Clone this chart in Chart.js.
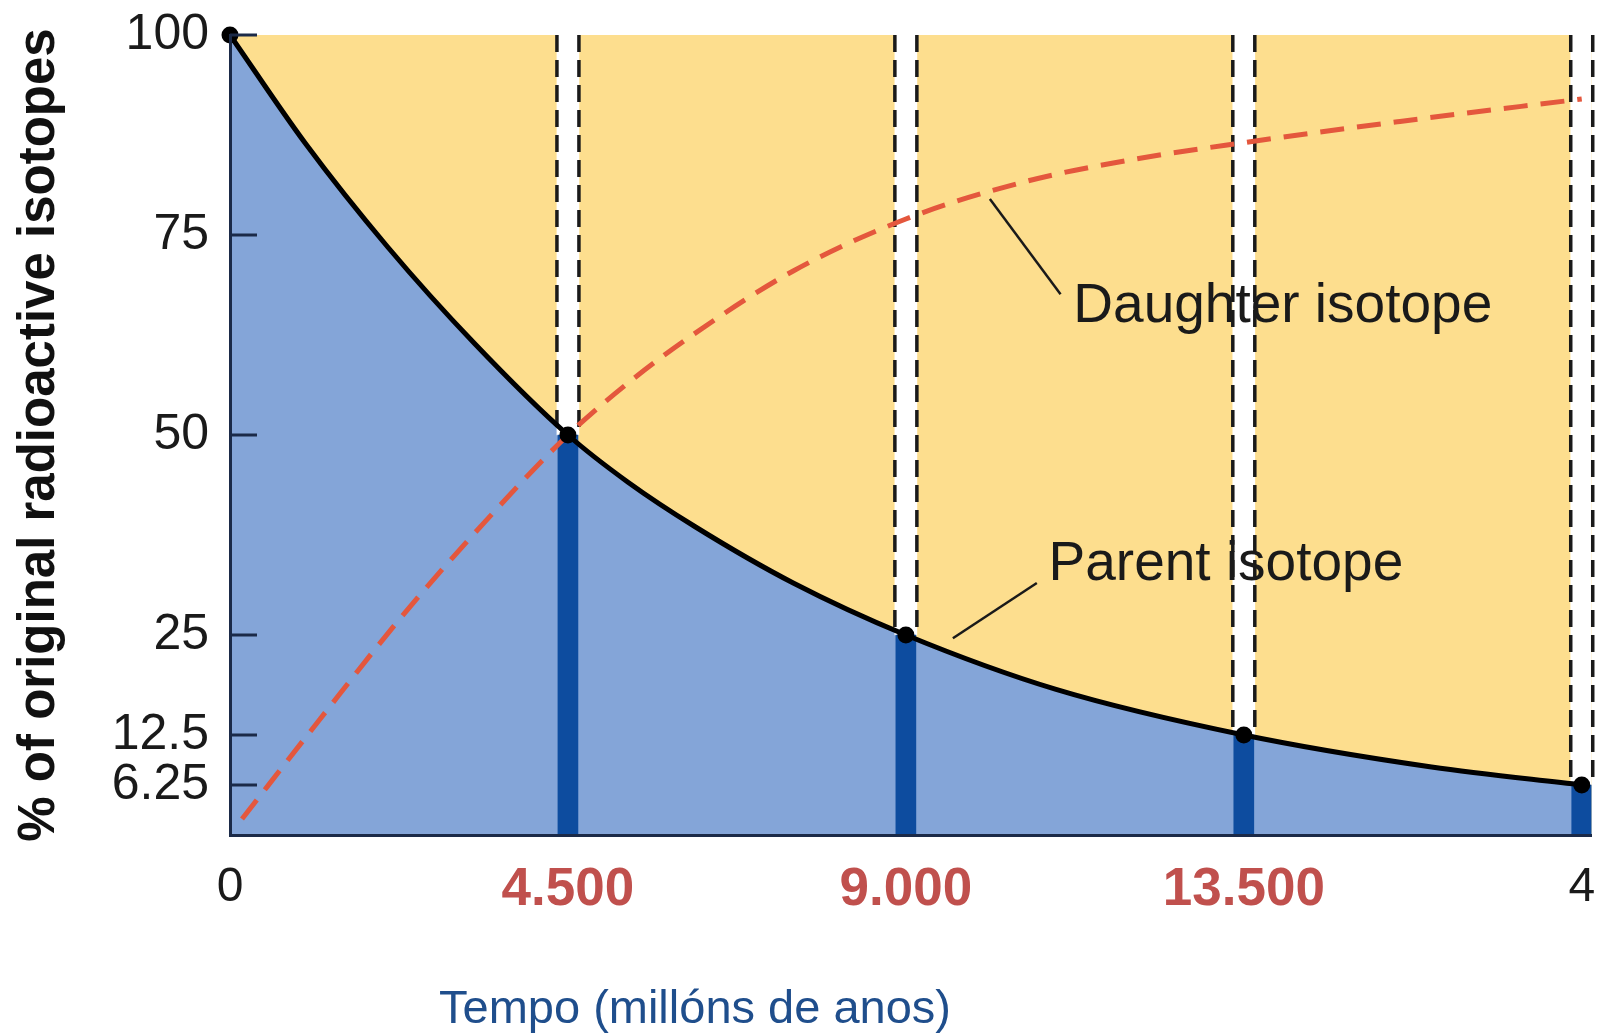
<!DOCTYPE html>
<html>
<head>
<meta charset="utf-8">
<script src="https://cdn.jsdelivr.net/npm/chart.js@4.4.0/dist/chart.umd.min.js"></script>
<style>
  html, body { margin:0; padding:0; background:#fff; }
  #wrap { width:1600px; height:1035px; }
</style>
</head>
<body>
<div id="wrap"><canvas id="grafico"></canvas></div>
<script>
//----------DATOS
const anos_tick = [0, 4500, 9000, 13500, 18000]
const etiquetas_x = ['0', '4.500', '9.000', '13.500', '4']
const ticks_y = [6.25, 12.5, 25, 50, 75, 100]

// isotopo padre (curva negra)
const anos_padre = [0, 1000, 2100, 3250, 4500, 5300, 6200, 7500, 9000, 11000, 13500, 16000, 18000]
const pct_padre = [100, 86.5, 73.5, 61.5, 50, 44.1, 38.5, 31.5, 25, 18.2, 12.5, 8.5, 6.25]

// isotopo hija (curva roja discontinua)
const anos_hija = [160, 1200, 2260, 3400, 4500, 5300, 6160, 7500, 9000, 10600, 12000, 13540, 15580, 18000]
const pct_hija = [2, 14.5, 27, 39.2, 50, 56.5, 62.5, 70.5, 77, 81.7, 84.4, 86.6, 89.2, 92]

// puntos de cada vida media
const anos_vida_media = [0, 4500, 9000, 13500, 18000]
const pct_vida_media = [100, 50, 25, 12.5, 6.25]

const x_max = 18130

//----------ESTILO
const FUENTE = "'Liberation Sans', Arial, sans-serif"
Chart.defaults.font.family = FUENTE
const AZUL_EJE = '#1B2A48'
const TEXTO = '#1a1a1a'
const ROJO_TICK = '#C0504D'

// anotaciones (posicion en unidades de datos)
const notas = [
  { texto: 'Daughter isotope', x: 11230, y: 66.0, linea: [10119, 79.5, 11060, 67.6] },
  { texto: 'Parent isotope', x: 10900, y: 33.8, linea: [9626, 24.6, 10744, 31.5] }
]

const pares = (xs, ys) => xs.map((a, i) => ({ x: a, y: ys[i] }))

const plugin_dibujo = {
  id: 'dibujo',
  beforeDatasetsDraw(chart) {
    const { ctx, chartArea: a } = chart
    ctx.save()
    ctx.fillStyle = '#FDDE8E'
    ctx.fillRect(a.left, a.top, a.right - a.left, a.bottom - a.top)
    ctx.restore()
  },
  afterDatasetDraw(chart, args) {
    if (args.meta.label !== 'franjas') return
    const ctx = chart.ctx
    ctx.save()
    ctx.strokeStyle = '#1a1a1a'
    ctx.lineWidth = 3.5
    ctx.setLineDash([17, 8])
    args.meta.data.forEach(el => {
      const p = el.getProps(['x', 'y', 'base', 'width'], true)
      const top = Math.min(p.y, p.base), bot = Math.max(p.y, p.base)
      ;[p.x - p.width / 2, p.x + p.width / 2].forEach(xx => {
        ctx.beginPath()
        ctx.moveTo(xx, top)
        ctx.lineTo(xx, bot)
        ctx.stroke()
      })
    })
    ctx.restore()
  },
  afterDraw(chart) {
    const { ctx, chartArea: a, scales } = chart
    const sx = scales.x, sy = scales.y
    ctx.save()
    // marcas del eje y hacia dentro
    ctx.strokeStyle = AZUL_EJE
    ctx.lineWidth = 3
    ticks_y.forEach(v => {
      const py = sy.getPixelForValue(v)
      ctx.beginPath()
      ctx.moveTo(a.left, py)
      ctx.lineTo(a.left + 27, py)
      ctx.stroke()
    })
    // anotaciones
    ctx.strokeStyle = '#1a1a1a'
    ctx.lineWidth = 2.5
    ctx.fillStyle = TEXTO
    ctx.font = '55px ' + FUENTE
    ctx.textBaseline = 'middle'
    ctx.textAlign = 'left'
    notas.forEach(n => {
      const l = n.linea
      ctx.beginPath()
      ctx.moveTo(sx.getPixelForValue(l[0]), sy.getPixelForValue(l[1]))
      ctx.lineTo(sx.getPixelForValue(l[2]), sy.getPixelForValue(l[3]))
      ctx.stroke()
      ctx.fillText(n.texto, sx.getPixelForValue(n.x), sy.getPixelForValue(n.y))
    })
    // titulo eje x
    ctx.fillStyle = '#1F4E8C'
    ctx.font = '47px ' + FUENTE
    ctx.textAlign = 'center'
    ctx.fillText('Tempo (millóns de anos)', a.left + 465, 1010)
    ctx.restore()
  }
}

const ctx = document.getElementById('grafico').getContext('2d')
const grafico = new Chart(ctx, {
  type: 'line',
  data: {
    datasets: [
      {
        label: 'relleno',
        data: pares(anos_padre, pct_padre),
        borderWidth: 0,
        borderColor: 'rgba(0,0,0,0)',
        backgroundColor: '#84A5D8',
        fill: 'origin',
        pointRadius: 0,
        cubicInterpolationMode: 'monotone',
        order: 7
      },
      {
        type: 'bar',
        label: 'franjas',
        data: anos_vida_media.slice(1).map((a, i) => ({ x: a, y: [pct_vida_media[i + 1], 100] })),
        backgroundColor: '#ffffff',
        barThickness: 22,
        grouped: false,
        borderWidth: 0,
        order: 6
      },
      {
        type: 'bar',
        label: 'barras',
        data: anos_vida_media.slice(1).map((a, i) => ({ x: a, y: [0, pct_vida_media[i + 1]] })),
        backgroundColor: '#0D4C9F',
        barThickness: 20,
        grouped: false,
        borderWidth: 0,
        order: 5
      },
      {
        label: 'Daughter isotope',
        data: pares(anos_hija, pct_hija),
        borderColor: '#E4573D',
        borderWidth: 5,
        borderDash: [24, 13],
        fill: false,
        pointRadius: 0,
        cubicInterpolationMode: 'monotone',
        order: 4
      },
      {
        label: 'Parent isotope',
        data: pares(anos_padre, pct_padre),
        borderColor: '#000000',
        borderWidth: 5,
        fill: false,
        pointRadius: 0,
        cubicInterpolationMode: 'monotone',
        order: 3
      },
      {
        label: 'puntos',
        data: pares(anos_vida_media, pct_vida_media),
        showLine: false,
        pointRadius: 8.5,
        pointBackgroundColor: '#000',
        pointBorderWidth: 0,
        clip: false,
        order: 1
      }
    ]
  },
  options: {
    responsive: true,
    maintainAspectRatio: false,
    animation: false,
    layout: { padding: { top: 35, right: 8, left: 0, bottom: 0 } },
    plugins: { legend: { display: false }, tooltip: { enabled: false } },
    scales: {
      x: {
        type: 'linear',
        min: 0,
        max: x_max,
        offset: false,
        afterBuildTicks: s => { s.ticks = anos_tick.map(v => ({ value: v })) },
        afterFit: s => { s.height = 200; s.paddingLeft = 0; s.paddingRight = 0 },
        grid: { display: false, drawTicks: false },
        border: { display: true, color: AZUL_EJE, width: 3, z: 1 },
        ticks: {
          autoSkip: false,
          maxRotation: 0,
          padding: 24,
          callback: v => etiquetas_x[anos_tick.indexOf(v)],
          color: c => (c.index > 0 && c.index < 4) ? ROJO_TICK : TEXTO,
          font: c => (c.index > 0 && c.index < 4) ? { size: 53, weight: 'bold' } : { size: 48 }
        }
      },
      y: {
        min: 0,
        max: 100,
        afterBuildTicks: s => { s.ticks = ticks_y.map(v => ({ value: v })) },
        afterFit: s => { s.width = 230; s.paddingTop = 0; s.paddingBottom = 0 },
        grid: { display: false, drawTicks: false },
        border: { display: true, color: AZUL_EJE, width: 3, z: 1 },
        ticks: {
          autoSkip: false,
          padding: 21,
          color: TEXTO,
          font: { size: 50 },
          callback: v => String(v)
        },
        title: {
          display: true,
          text: '% of original radioactive isotopes',
          color: '#111',
          font: { size: 51, weight: 'bold' },
          padding: { top: 9, bottom: 0 }
        }
      }
    }
  },
  plugins: [plugin_dibujo]
})
</script>
</body>
</html>
